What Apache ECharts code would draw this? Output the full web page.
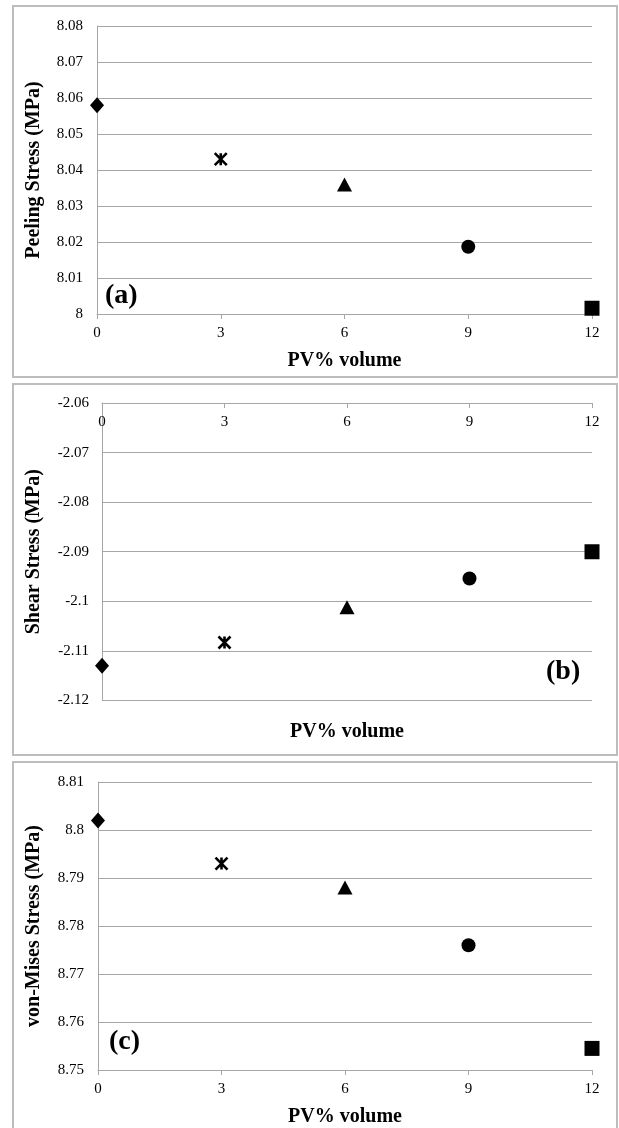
<!DOCTYPE html>
<html>
<head>
<meta charset="utf-8">
<script src="https://cdn.jsdelivr.net/npm/echarts@6/dist/echarts.min.js"></script>
<style>
html,body{margin:0;padding:0;background:#fff;}
#chart{width:619px;height:1128px;}
</style>
</head>
<body>
<div id="chart"></div>
<script>
// ---- data ----
const pvVolume = [0, 3, 6, 9, 12];
const peelingStress = [8.058, 8.043, 8.036, 8.0187, 8.0016];
const shearStress = [-2.1130, -2.1083, -2.1012, -2.0954, -2.0900];
const vonMisesStress = [8.802, 8.793, 8.788, 8.776, 8.7545];
const xTicks = { min: 0, max: 12, interval: 3 };
const yTicksA = { min: 8.00, max: 8.08, interval: 0.01 };
const yTicksB = { min: -2.12, max: -2.06, interval: 0.01 };
const yTicksC = { min: 8.75, max: 8.81, interval: 0.01 };
const xTitle = 'PV% volume';
const yTitles = ['Peeling Stress (MPa)', 'Shear Stress (MPa)', 'von-Mises Stress (MPa)'];
const panelTags = ['(a)', '(b)', '(c)'];

// ---- styling ----
const FONT = '"Liberation Serif", "Times New Roman", serif';
const GRIDC = '#a6a6a6';
const markerStyles = [
  { symbol: 'diamond', symbolSize: [14, 16] },
  { symbol: 'path://M0,0L10,10M10,0L0,10M5,0L5,10', symbolSize: 12, itemStyle: { color: '#000', borderColor: '#000', borderWidth: 2.6, opacity: 1 } },
  { symbol: 'triangle', symbolSize: [15, 14] },
  { symbol: 'circle', symbolSize: 14 },
  { symbol: 'rect', symbolSize: 15 }
];

function points(values) {
  return values.map((v, i) => Object.assign({ value: [pvVolume[i], v] }, markerStyles[i]));
}
const fmt = v => String(+(+v).toFixed(2));

function yAxisCfg(gridIndex, t, name, nameGap, margin) {
  return {
    gridIndex, type: 'value', min: t.min, max: t.max, interval: t.interval,
    name, nameLocation: 'middle', nameRotate: 90, nameGap,
    nameTextStyle: { fontFamily: FONT, fontWeight: 'bold', fontSize: 20, color: '#000' },
    axisLine: { show: true, lineStyle: { color: GRIDC, width: 1 } },
    axisTick: { show: false },
    axisLabel: { fontFamily: FONT, fontSize: 15, color: '#000', margin, formatter: fmt },
    splitLine: { show: true, lineStyle: { color: GRIDC, width: 1 } }
  };
}
function xAxisCfg(gridIndex, extra) {
  return Object.assign({
    gridIndex, type: 'value', min: xTicks.min, max: xTicks.max, interval: xTicks.interval,
    axisLine: { show: true, onZero: false, lineStyle: { color: GRIDC, width: 1 } },
    axisTick: { show: true, length: 5, lineStyle: { color: GRIDC } },
    axisLabel: { fontFamily: FONT, fontSize: 15, color: '#000', margin: 12 },
    splitLine: { show: false },
    nameTextStyle: { fontFamily: FONT, fontWeight: 'bold', fontSize: 20, color: '#000' }
  }, extra);
}

const seriesStyle = { color: '#000', opacity: 1 };
const chart = echarts.init(document.getElementById('chart'), null, { renderer: 'canvas' });
const option = {
  backgroundColor: '#fff',
  animation: false,
  grid: [
    { left: 97, right: 27, top: 26, height: 288 },
    { left: 102, right: 27, top: 403, height: 297.5 },
    { left: 98, right: 27, top: 782, height: 288 }
  ],
  xAxis: [
    xAxisCfg(0, { position: 'bottom', name: xTitle, nameLocation: 'middle', nameGap: 37 }),
    xAxisCfg(1, { position: 'top', axisTick: { show: true, inside: true, length: 5, lineStyle: { color: GRIDC } },
      axisLabel: { inside: true, fontFamily: FONT, fontSize: 15, color: '#000', margin: 12 } }),
    xAxisCfg(2, { position: 'bottom', name: xTitle, nameLocation: 'middle', nameGap: 37 }),
    xAxisCfg(1, { position: 'bottom', name: xTitle, nameLocation: 'middle', nameGap: 21,
      axisLine: { show: false }, axisTick: { show: false }, axisLabel: { show: false } })
  ],
  yAxis: [
    yAxisCfg(0, yTicksA, yTitles[0], 53, 14),
    yAxisCfg(1, yTicksB, yTitles[1], 58, 13),
    yAxisCfg(2, yTicksC, yTitles[2], 54, 14)
  ],
  series: [
    { type: 'scatter', xAxisIndex: 0, yAxisIndex: 0, data: points(peelingStress), itemStyle: seriesStyle, clip: false },
    { type: 'scatter', xAxisIndex: 1, yAxisIndex: 1, data: points(shearStress), itemStyle: seriesStyle, clip: false },
    { type: 'scatter', xAxisIndex: 2, yAxisIndex: 2, data: points(vonMisesStress), itemStyle: seriesStyle, clip: false }
  ],
  graphic: [
    { type: 'rect', shape: { x: 13, y: 6, width: 604, height: 371 }, style: { fill: 'none', stroke: '#bdbdbd', lineWidth: 2 }, z: -1 },
    { type: 'rect', shape: { x: 13, y: 384, width: 604, height: 371 }, style: { fill: 'none', stroke: '#bdbdbd', lineWidth: 2 }, z: -1 },
    { type: 'rect', shape: { x: 13, y: 762, width: 604, height: 380 }, style: { fill: 'none', stroke: '#bdbdbd', lineWidth: 2 }, z: -1 },
    { type: 'text', left: 105, top: 282, style: { text: panelTags[0], font: 'bold 28px ' + FONT, fill: '#000' } },
    { type: 'text', left: 546, top: 658, style: { text: panelTags[1], font: 'bold 28px ' + FONT, fill: '#000' } },
    { type: 'text', left: 109, top: 1028, style: { text: panelTags[2], font: 'bold 28px ' + FONT, fill: '#000' } }
  ]
};
chart.setOption(option);
</script>
</body>
</html>
